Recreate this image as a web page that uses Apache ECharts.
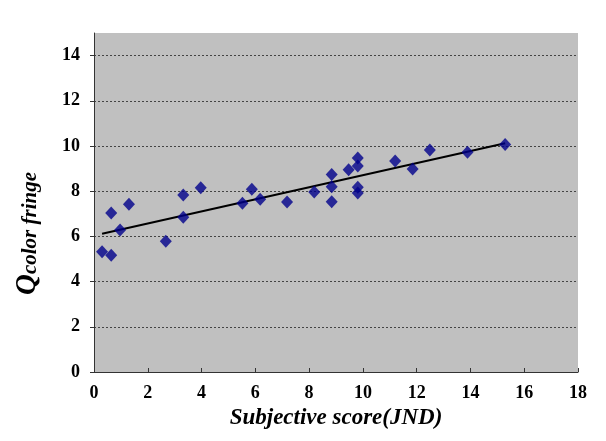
<!DOCTYPE html>
<html>
<head>
<meta charset="utf-8">
<script src="https://cdn.jsdelivr.net/npm/echarts@6/dist/echarts.min.js"></script>
<style>html,body{margin:0;padding:0;background:#fff}#c{width:606px;height:441px}</style>
</head>
<body>
<div id="c"></div>
<script>
const scoreX = [0.30,0.64,0.64,0.97,1.30,2.67,3.32,3.32,3.97,5.52,5.87,6.18,7.18,8.19,8.84,8.84,8.84,9.47,9.81,9.81,9.81,9.81,11.20,11.85,12.49,13.89,15.29];
const qY =     [5.32,5.17,7.03,6.28,7.42,5.78,7.83,6.85,8.15,7.47,8.09,7.64,7.52,7.96,8.74,8.20,7.53,8.95,9.47,9.11,8.18,7.92,9.34,8.98,9.82,9.72,10.07];
const trendX = [0.30, 15.29];
const trendY = [6.12, 10.12];
const xTicks = [0,2,4,6,8,10,12,14,16,18];
const yTicks = [0,2,4,6,8,10,12,14];

const chart = echarts.init(document.getElementById('c'));
const fnt = '"Liberation Serif","Times New Roman",serif';
chart.setOption({
  animation: false,
  backgroundColor: '#fff',
  grid: {left: 94, right: 28, top: 33, bottom: 69, show: true, backgroundColor: '#C0C0C0', borderWidth: 0},
  xAxis: {
    type: 'value', min: 0, max: 18, interval: 2,
    name: 'Subjective score(JND)', nameLocation: 'middle', nameGap: 34,
    nameTextStyle: {fontFamily: fnt, fontWeight: 'bold', fontStyle: 'italic', fontSize: 23, color: '#000'},
    axisLine: {lineStyle: {color: '#333', width: 1}},
    axisTick: {show: true, inside: true, length: 4, lineStyle: {color: '#333'}},
    axisLabel: {fontFamily: fnt, fontWeight: 'bold', fontSize: 18, color: '#000', margin: 12,
      formatter: v => xTicks.includes(v) ? String(v) : ''},
    splitLine: {show: false}
  },
  yAxis: {
    type: 'value', min: 0, max: 15, interval: 2,
    name: '{q|Q}{s|color fringe}', nameLocation: 'middle', nameGap: 52, nameRotate: 90,
    nameTextStyle: {padding: [0, 62, 0, 0], rich: {
      q: {fontFamily: fnt, fontWeight: 'bold', fontStyle: 'italic', fontSize: 29, color: '#000'},
      s: {fontFamily: fnt, fontWeight: 'bold', fontStyle: 'italic', fontSize: 21, color: '#000', padding: [6,0,0,0]}
    }},
    axisLine: {show: true, lineStyle: {color: '#333', width: 1}},
    axisTick: {show: true, inside: false, length: 4, lineStyle: {color: '#333'}},
    axisLabel: {fontFamily: fnt, fontWeight: 'bold', fontSize: 18, color: '#000', margin: 14, showMaxLabel: false,
      formatter: v => yTicks.includes(v) ? String(v) : ''},
    splitLine: {show: true, showMinLine: false, showMaxLine: false, lineStyle: {color: '#444', type: [2,2], width: 1}}
  },
  series: [
    {type: 'scatter', data: scoreX.map((x, i) => [x, qY[i]]), symbol: 'diamond', symbolSize: [12, 13],
      itemStyle: {color: '#00008B'}, z: 3},
    {type: 'line', data: trendX.map((x, i) => [x, trendY[i]]), symbol: 'none',
      lineStyle: {color: '#000', width: 2}, z: 2}
  ]
});
</script>
</body>
</html>
